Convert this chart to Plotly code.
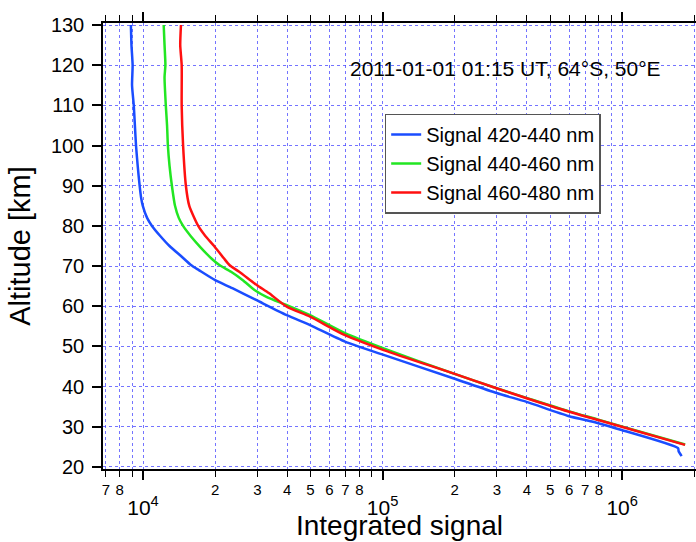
import plotly.graph_objects as go

# ---- data ----
alt_blue = [130, 125, 120, 115, 110, 105, 100, 95, 90, 87, 85, 82, 80, 77.5, 75, 72.5, 70.2, 69,
            66.5, 64.5, 61.5, 57.8, 55.3, 51.2, 47.9, 42.1, 38.4, 36.2, 32.7, 30.9, 29.2, 24.7, 23.9, 22.7]
sig_blue = [8.9e3, 8.95e3, 9.05e3, 9.0e3, 9.15e3, 9.25e3, 9.35e3, 9.5e3, 9.68e3, 9.82e3, 9.98e3, 1.04e4,
            1.09e4, 1.18e4, 1.29e4, 1.44e4, 1.59e4, 1.71e4, 2.0e4, 2.36e4, 2.98e4, 3.98e4, 4.98e4, 6.97e4,
            1.01e5, 1.97e5, 2.99e5, 3.99e5, 5.96e5, 7.95e5, 9.95e5, 1.71e6, 1.72e6, 1.77e6]

alt_green = [130, 125, 120, 117, 110, 105, 100, 95, 90, 85, 82, 80, 77.5, 74.8, 71.9, 70.2, 68.6, 66.5,
             64.0, 62.3, 60.3, 57.8, 53.3, 49.5, 43.3, 39.6, 37.2, 33.9, 31.8, 30.1, 25.6]
sig_green = [1.22e4, 1.23e4, 1.24e4, 1.23e4, 1.245e4, 1.26e4, 1.27e4, 1.29e4, 1.32e4, 1.36e4, 1.41e4,
             1.47e4, 1.58e4, 1.73e4, 1.93e4, 2.09e4, 2.33e4, 2.61e4, 2.93e4, 3.29e4, 3.98e4, 4.98e4,
             6.97e4, 1.01e5, 1.97e5, 2.99e5, 3.99e5, 5.96e5, 7.95e5, 9.95e5, 1.83e6]

alt_red = [130, 125, 120, 110, 100, 90, 85, 80, 77.5, 75, 72, 70.2, 68.6, 65.3, 63.3, 59.9, 57.4, 52.8,
           49.1, 43.3, 39.6, 37.1, 33.8, 31.7, 30.0, 25.5]
sig_red = [1.44e4, 1.43e4, 1.45e4, 1.45e4, 1.47e4, 1.51e4, 1.56e4, 1.70e4, 1.82e4, 1.98e4, 2.17e4,
           2.30e4, 2.52e4, 2.98e4, 3.35e4, 3.98e4, 4.98e4, 6.97e4, 1.01e5, 1.97e5, 2.99e5, 3.99e5,
           5.96e5, 7.95e5, 9.95e5, 1.83e6]

series_names = ["Signal 420-440 nm", "Signal 440-460 nm", "Signal 460-480 nm"]
series_colors = ["#1a4dff", "#22e622", "#ff1010"]

minor_tickvals = [7e3, 8e3, 9e3, 2e4, 3e4, 4e4, 5e4, 6e4, 7e4, 8e4, 9e4,
                  2e5, 3e5, 4e5, 5e5, 6e5, 7e5, 8e5, 9e5, 2e6]
minor_ticktext = ["7", "8", "", "2", "3", "4", "5", "6", "7", "8", "",
                  "2", "3", "4", "5", "6", "7", "8", "", "2"]
decade_tickvals = [1e4, 1e5, 1e6]
decade_ticktext = ["10<sup>4</sup>", "10<sup>5</sup>", "10<sup>6</sup>"]
y_tickvals = [20, 30, 40, 50, 60, 70, 80, 90, 100, 110, 120, 130]

title_text = "2011-01-01 01:15 UT, 64°S, 50°E"

FONT = "Liberation Sans, Arial, sans-serif"
GRID = "rgba(70,70,255,0.75)"

fig = go.Figure()
for a, s, n, c in zip([alt_blue, alt_green, alt_red], [sig_blue, sig_green, sig_red],
                      series_names, series_colors):
    fig.add_trace(go.Scatter(x=s, y=a, mode="lines", name=n,
                             line=dict(color=c, width=2.5, shape="spline", smoothing=0.6)))
# empty trace so that the overlaying decade axis is instantiated
fig.add_trace(go.Scatter(x=[None], y=[None], xaxis="x2", yaxis="y", mode="lines",
                         showlegend=False, hoverinfo="skip"))

xrange = [3.833, 6.308]

fig.update_layout(
    width=696, height=542,
    margin=dict(l=103, r=0, t=23, b=73, autoexpand=False),
    paper_bgcolor="white", plot_bgcolor="white",
    font=dict(family=FONT, color="black"),
    showlegend=True,
    legend=dict(x=0.475, y=0.797, xanchor="left", yanchor="top",
                bgcolor="white", bordercolor="#555555", borderwidth=1.5,
                font=dict(size=20, family=FONT), itemwidth=30),
    xaxis=dict(type="log", range=xrange, automargin=False,
               tickmode="array",
               tickvals=minor_tickvals + decade_tickvals,
               ticktext=minor_ticktext + [""] * len(decade_tickvals),
               ticks="outside", ticklen=6, tickwidth=1, tickcolor="black",
               tickfont=dict(size=15, family=FONT),
               showline=True, linecolor="black", linewidth=1.5, mirror="allticks",
               showgrid=True, gridcolor=GRID, griddash="dot", gridwidth=1,
               zeroline=False,
               title=dict(text="Integrated signal", font=dict(size=28, family=FONT), standoff=19)),
    xaxis2=dict(type="log", range=xrange, overlaying="x", anchor="y", side="bottom",
                automargin=False,
                tickmode="array", tickvals=decade_tickvals, ticktext=decade_ticktext,
                ticks="outside", ticklen=10, tickwidth=1.5, tickcolor="black",
                tickfont=dict(size=21, family=FONT), ticklabelstandoff=10,
                showline=False, mirror="allticks", showgrid=False, zeroline=False),
    yaxis=dict(range=[19.5, 130.5], tickmode="array", tickvals=y_tickvals, automargin=False,
               ticks="outside", ticklen=9, tickwidth=1.5, tickcolor="black",
               tickfont=dict(size=20, family=FONT), ticklabelstandoff=4,
               showline=True, linecolor="black", linewidth=1.5,
               showgrid=True, gridcolor=GRID, griddash="dot", gridwidth=1,
               zeroline=False,
               title=dict(text="Altitude [km]", font=dict(size=29, family=FONT), standoff=12)),
    annotations=[dict(text=title_text, xref="paper", yref="paper", x=0.678, y=0.899,
                      xanchor="center", yanchor="middle", showarrow=False,
                      font=dict(size=21, family=FONT))],
)

fig.write_html("out.html", config={"displayModeBar": False},
               post_script="document.body.style.margin='0';document.body.style.padding='0';")
